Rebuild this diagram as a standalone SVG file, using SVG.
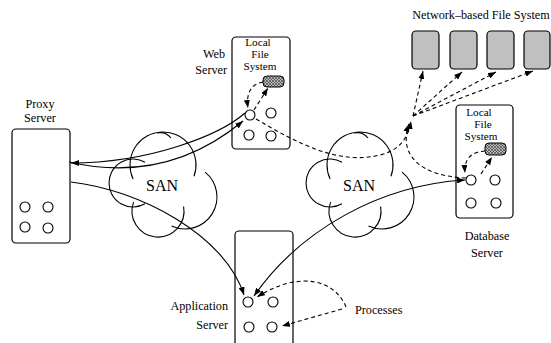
<svg xmlns="http://www.w3.org/2000/svg" width="551" height="343" viewBox="0 0 551 343" font-family="'Liberation Serif', 'DejaVu Serif', 'Times New Roman', serif">
<style>
text{font-family:'Liberation Serif','DejaVu Serif','Times New Roman',serif;font-size:12.2px;fill:#000}
.lfs{font-size:11.2px}
.box{fill:#fff;stroke:#000;stroke-width:1.2}
.nfs{fill:#c0c0c0;stroke:#000;stroke-width:1.2}
.proc{fill:#fff;stroke:#000;stroke-width:1.1}
.hatch{fill:url(#xh);stroke:#000;stroke-width:1}
.cl{fill:none;stroke:#000;stroke-width:1.1}
.ln{fill:none;stroke:#000;stroke-width:1.1}
.ds{fill:none;stroke:#000;stroke-width:1.1;stroke-dasharray:4,3}
.san{font-size:16px}
</style>
<defs>
<pattern id="xh" width="3" height="3" patternUnits="userSpaceOnUse">
<rect width="3" height="3" fill="#bbb"/>
<path d="M0 0L3 3M3 0L0 3" stroke="#333" stroke-width="0.6"/>
</pattern>
<marker id="ah" viewBox="0 0 8 6" refX="8" refY="3" markerWidth="8" markerHeight="6" markerUnits="userSpaceOnUse" orient="auto">
<path d="M0 0L8 3L0 6z" fill="#000"/>
</marker>
<marker id="as" viewBox="0 0 8 6" refX="0" refY="3" markerWidth="8" markerHeight="6" markerUnits="userSpaceOnUse" orient="auto">
<path d="M8 0L0 3L8 6z" fill="#000"/>
</marker>
<g id="cloud">
<path class="cl" d="M -29.9 -6.1 A 33 33 0 1 1 31 -8.7"/>
<path class="cl" d="M -18 -22.8 A 24 24 0 1 0 -18 18.8"/>
<path class="cl" d="M -29.4 17.1 A 26 26 0 1 0 20.6 21.5"/>
<path class="cl" d="M 42.1 -12.9 A 32 32 0 0 1 8.5 41"/>
<path class="cl" d="M -6 -52 A 14 14 0 0 1 8 -47"/>
</g>
</defs>

<g id="san-left">
<use href="#cloud" x="163" y="185"/>
<text class="san" x="162" y="191" text-anchor="middle">SAN</text>
</g>
<g id="san-right">
<use href="#cloud" x="360" y="185"/>
<text class="san" x="359" y="191" text-anchor="middle">SAN</text>
</g>

<g id="proxy-server">
<rect class="box" x="12" y="129" width="58" height="114" rx="4"/>
<circle class="proc" cx="25" cy="207" r="5"/>
<circle class="proc" cx="48" cy="207" r="5"/>
<circle class="proc" cx="25" cy="227" r="5"/>
<circle class="proc" cx="48" cy="228" r="5"/>
<text x="40" y="108" text-anchor="middle">Proxy</text>
<text x="40" y="122" text-anchor="middle">Server</text>
</g>

<g id="web-server">
<rect class="box" x="232" y="37" width="58" height="112" rx="4"/>
<text class="lfs" x="258" y="46" text-anchor="middle">Local</text>
<text class="lfs" x="260" y="58" text-anchor="middle">File</text>
<text class="lfs" x="260" y="70" text-anchor="middle">System</text>
<rect class="hatch" x="263" y="76" width="21" height="11" rx="4"/>
<circle class="proc" cx="250" cy="115" r="5"/>
<circle class="proc" cx="271" cy="113" r="5"/>
<circle class="proc" cx="249" cy="135" r="5"/>
<circle class="proc" cx="271" cy="136" r="5"/>
<text x="214" y="58" text-anchor="middle">Web</text>
<text x="227" y="74" text-anchor="end">Server</text>
</g>

<g id="database-server">
<rect class="box" x="456" y="105" width="57" height="113" rx="4"/>
<text class="lfs" x="479" y="116" text-anchor="middle">Local</text>
<text class="lfs" x="483" y="128" text-anchor="middle">File</text>
<text class="lfs" x="481" y="140" text-anchor="middle">System</text>
<rect class="hatch" x="485" y="143" width="21" height="12" rx="4"/>
<circle class="proc" cx="471" cy="180" r="5"/>
<circle class="proc" cx="495" cy="180" r="5"/>
<circle class="proc" cx="471" cy="203" r="5"/>
<circle class="proc" cx="496" cy="203" r="5"/>
<text x="487" y="240" text-anchor="middle">Database</text>
<text x="487" y="257" text-anchor="middle">Server</text>
</g>

<g id="application-server">
<rect class="box" x="235" y="231" width="58" height="125" rx="4"/>
<circle class="proc" cx="248" cy="302" r="5"/>
<circle class="proc" cx="273" cy="302" r="5"/>
<circle class="proc" cx="249" cy="327" r="5"/>
<circle class="proc" cx="272" cy="327" r="5"/>
<text x="228" y="310" text-anchor="end">Application</text>
<text x="228" y="329" text-anchor="end">Server</text>
</g>

<g id="network-file-system">
<text x="481" y="19" text-anchor="middle">Network–based File System</text>
<rect class="nfs" x="412" y="31" width="27" height="38" rx="4"/>
<rect class="nfs" x="450" y="31" width="27" height="38" rx="4"/>
<rect class="nfs" x="487" y="31" width="27" height="38" rx="4"/>
<rect class="nfs" x="524" y="31" width="26" height="38" rx="4"/>
</g>

<g id="processes-label">
<text x="355" y="314">Processes</text>
</g>

<g id="connectors">
<path class="ln" d="M 245 113 C 220 135 150 163 71 163" marker-end="url(#ah)"/>
<path class="ln" d="M 69 162 C 130 176 190 165 243 121" marker-end="url(#ah)"/>
<path class="ln" d="M 71 182 C 140 190 225 235 244 295" marker-end="url(#ah)"/>
<path class="ln" d="M 465 180 C 380 185 300 230 254 296" marker-start="url(#as)" marker-end="url(#ah)"/>
<path class="ds" d="M 256 119 C 300 145 340 165 380 155 C 400 150 408 138 411 121" marker-end="url(#ah)"/>
<path class="ds" d="M 466 178 C 420 176 398 155 409 124" marker-end="url(#ah)"/>
<path class="ds" d="M 413 116 L 423 71" marker-end="url(#ah)"/>
<path class="ds" d="M 413 116 L 462 72" marker-end="url(#ah)"/>
<path class="ds" d="M 413 116 L 496 72" marker-end="url(#ah)"/>
<path class="ds" d="M 413 116 L 533 71" marker-end="url(#ah)"/>
<path class="ds" d="M 263 82 C 250 84 246 95 248 108" marker-end="url(#ah)"/>
<path class="ds" d="M 254 110 L 268 88" marker-end="url(#ah)"/>
<path class="ds" d="M 485 151 C 470 152 464 160 465 173" marker-end="url(#ah)"/>
<path class="ds" d="M 481 174 L 492 157" marker-end="url(#ah)"/>
<path class="ds" d="M 346 307 C 335 280 300 270 257 297" marker-end="url(#ah)"/>
<path class="ds" d="M 342 309 L 282 326" marker-end="url(#ah)"/>
</g>
</svg>
